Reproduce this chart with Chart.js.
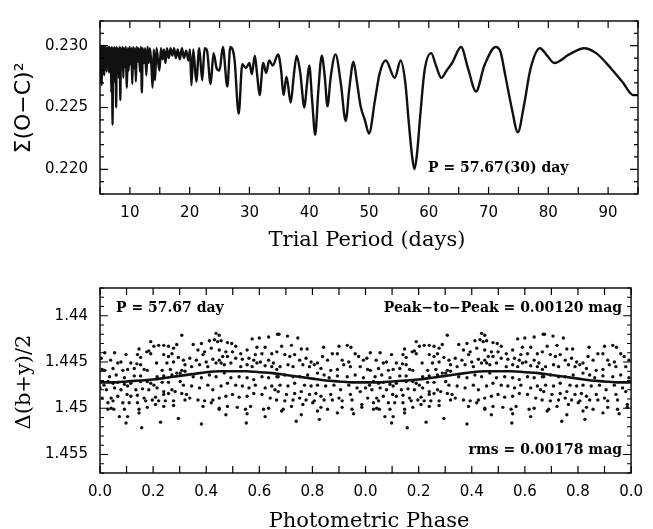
<!DOCTYPE html>
<html lang="en">
<head>
  <meta charset="UTF-8" />
  <title>Period search and phased light curve</title>
  <script src="https://cdn.jsdelivr.net/npm/chart.js"></script>
  <style>
    body {
      margin: 0;
      padding: 0;
      background: #fff;
      width: 653px;
      height: 529px;
      overflow: hidden;
    }
    canvas {
      position: absolute;
      left: 0;
    }
    #periodChart { top: 0; }
    #phaseChart { top: 262px; }
  </style>
</head>
<body>

<canvas id="periodChart" width="653" height="262"></canvas>
<canvas id="phaseChart" width="653" height="267"></canvas>

<script>
  // ---- top panel: sum of squared residuals vs trial period ----
  const trialPeriod = [
    5.0, 5.1, 5.2, 5.3, 5.4, 5.5, 5.6, 5.7, 5.8, 5.9,
    6.0, 6.1, 6.2, 6.3, 6.4, 6.5, 6.6, 6.7, 6.8, 6.9,
    7.0, 7.1, 7.2, 7.3, 7.4, 7.5, 7.6, 7.7, 7.8, 7.9,
    8.0, 8.15, 8.3, 8.4, 8.5, 8.65, 8.8, 8.9, 9.0, 9.15,
    9.3, 9.5, 9.65, 9.8, 9.95, 10.1, 10.25, 10.4, 10.55, 10.7,
    10.85, 11.0, 11.15, 11.3, 11.5, 11.7, 11.85, 12.0, 12.15, 12.35,
    12.55, 12.75, 12.95, 13.15, 13.35, 13.6, 13.8, 14.0, 14.2, 14.45,
    14.7, 14.95, 15.2, 15.45, 15.7, 15.95, 16.2, 16.5, 16.8, 17.1,
    17.4, 17.7, 18.0, 18.35, 18.7, 19.05, 19.4, 19.8, 20.05, 20.3,
    20.6, 21.1, 21.6, 22.1, 22.5, 22.9, 23.5, 24.0, 24.5, 25.0,
    25.55, 26.3, 26.8, 27.5, 28.2, 28.8, 29.4, 30.0, 30.4, 30.9,
    31.3, 31.7, 32.3, 32.8, 33.3, 33.9, 34.8, 35.3, 35.7, 36.2,
    36.9, 37.4, 37.9, 38.5, 39.2, 39.6, 40.0, 40.5, 41.0, 41.5,
    42.1, 42.6, 43.05, 43.6, 44.4, 45.3, 46.1, 46.7, 47.4, 48.0,
    48.6, 49.3, 50.0, 51.0, 51.8, 52.8, 54.3, 55.3, 56.1, 56.6,
    57.2, 57.6, 58.0, 58.6, 59.3, 60.4, 61.2, 62.1, 63.0, 63.9,
    65.4, 66.6, 67.9, 69.3, 71.2, 72.0, 72.8, 73.9, 74.9, 75.9,
    77.0, 78.6, 79.8, 81.0, 83.5, 86.0, 88.0, 90.6, 92.5, 94.2,
    95.0
  ];
  const sumOC = [
    0.2299, 0.2272, 0.2300, 0.2268, 0.2299, 0.2285, 0.2300, 0.2276, 0.2299, 0.2282,
    0.2299, 0.2279, 0.2298, 0.2288, 0.2299, 0.2278, 0.2299, 0.2284, 0.2298, 0.2262,
    0.2299, 0.2236, 0.2298, 0.2277, 0.2299, 0.2270, 0.2298, 0.2250, 0.2299, 0.2281,
    0.2298, 0.2274, 0.2299, 0.2256, 0.2298, 0.2284, 0.2299, 0.2274, 0.2298, 0.2283,
    0.2299, 0.2266, 0.2298, 0.2280, 0.2299, 0.2285, 0.2298, 0.2269, 0.2299, 0.2282,
    0.2298, 0.2271, 0.2299, 0.2287, 0.2298, 0.2279, 0.2299, 0.2262, 0.2298, 0.2286,
    0.2298, 0.2276, 0.2299, 0.2286, 0.2298, 0.2284, 0.2266, 0.2297, 0.2272, 0.2298,
    0.2288, 0.2280, 0.2298, 0.2289, 0.2297, 0.2286, 0.2298, 0.2290, 0.2298, 0.2292,
    0.2298, 0.2290, 0.2297, 0.2289, 0.2298, 0.2290, 0.2296, 0.2288, 0.2297, 0.2268,
    0.2297, 0.2271, 0.2298, 0.2272, 0.2298, 0.2296, 0.2269, 0.2294, 0.2282, 0.2280,
    0.2299, 0.2267, 0.2299, 0.2289, 0.2245, 0.2285, 0.2282, 0.2286, 0.2277, 0.2292,
    0.2276, 0.2260, 0.2286, 0.2278, 0.2288, 0.2284, 0.2293, 0.2280, 0.2260, 0.2275,
    0.2254, 0.2275, 0.2292, 0.2278, 0.2250, 0.2268, 0.2284, 0.2255, 0.2228, 0.2262,
    0.2292, 0.2275, 0.2251, 0.2275, 0.2293, 0.2269, 0.2239, 0.2265, 0.2287, 0.2270,
    0.2251, 0.2240, 0.2229, 0.2256, 0.2278, 0.2288, 0.2274, 0.2288, 0.2269, 0.2241,
    0.2211, 0.2200, 0.2211, 0.2245, 0.2280, 0.2294, 0.2284, 0.2274, 0.2280, 0.2286,
    0.2299, 0.2281, 0.2263, 0.2284, 0.2299, 0.2295, 0.2276, 0.2249, 0.2230, 0.2251,
    0.2281, 0.2298, 0.2292, 0.2286, 0.2293, 0.2298, 0.2294, 0.2281, 0.2270, 0.2260,
    0.2260
  ];
  const periodTicks = [10, 20, 30, 40, 50, 60, 70, 80, 90];
  const ocTicks = [0.220, 0.225, 0.230];
  const ocTickLabels = ['0.220', '0.225', '0.230'];

  // ---- bottom panel: phased photometry, one cycle (plotted twice) ----
  const phase = [
    0.308, 0.191, 0.203, 0.221, 0.240, 0.258, 0.289, 0.277, 0.147, 0.176,
    0.184, 0.191, 0.018, 0.055, 0.098, 0.141, 0.153, 0.240, 0.258, 0.271,
    0.295, 0.040, 0.005, 0.067, 0.079, 0.116, 0.139, 0.153, 0.213, 0.252,
    0.277, 0.314, 0.320, 0.018, 0.008, 0.049, 0.086, 0.104, 0.129, 0.166,
    0.178, 0.234, 0.265, 0.289, 0.308, 0.320, 0.036, 0.061, 0.092, 0.129,
    0.153, 0.215, 0.240, 0.271, 0.302, 0.015, 0.030, 0.049, 0.067, 0.092,
    0.116, 0.153, 0.178, 0.191, 0.203, 0.234, 0.258, 0.302, 0.314, 0.000,
    0.024, 0.055, 0.079, 0.104, 0.135, 0.160, 0.184, 0.215, 0.240, 0.271,
    0.283, 0.308, 0.326, 0.008, 0.042, 0.067, 0.102, 0.116, 0.141, 0.166,
    0.209, 0.240, 0.258, 0.030, 0.049, 0.086, 0.110, 0.141, 0.172, 0.197,
    0.221, 0.246, 0.277, 0.320, 0.030, 0.052, 0.092, 0.147, 0.178, 0.209,
    0.240, 0.277, 0.042, 0.073, 0.104, 0.147, 0.295, 0.098, 0.228, 0.157,
    0.437, 0.449, 0.351, 0.382, 0.412, 0.431, 0.443, 0.456, 0.480, 0.496,
    0.511, 0.573, 0.600, 0.635, 0.669, 0.591, 0.622, 0.369, 0.394, 0.419,
    0.449, 0.474, 0.499, 0.530, 0.554, 0.585, 0.610, 0.647, 0.666, 0.338,
    0.363, 0.388, 0.400, 0.425, 0.449, 0.462, 0.480, 0.511, 0.536, 0.561,
    0.579, 0.604, 0.635, 0.653, 0.345, 0.375, 0.406, 0.437, 0.456, 0.468,
    0.493, 0.530, 0.554, 0.573, 0.591, 0.622, 0.647, 0.666, 0.351, 0.382,
    0.412, 0.437, 0.468, 0.493, 0.524, 0.554, 0.579, 0.610, 0.635, 0.666,
    0.345, 0.375, 0.406, 0.425, 0.456, 0.480, 0.511, 0.536, 0.561, 0.585,
    0.622, 0.647, 0.659, 0.338, 0.369, 0.394, 0.425, 0.449, 0.474, 0.499,
    0.524, 0.554, 0.579, 0.610, 0.641, 0.388, 0.419, 0.449, 0.480, 0.517,
    0.548, 0.567, 0.616, 0.635, 0.474, 0.554, 0.622, 0.382, 0.551, 0.449,
    0.674, 0.706, 0.745, 0.684, 0.721, 0.758, 0.780, 0.842, 0.900, 0.931,
    0.945, 0.961, 0.875, 0.894, 0.696, 0.715, 0.733, 0.752, 0.776, 0.795,
    0.819, 0.838, 0.857, 0.912, 0.937, 0.974, 0.992, 0.678, 0.708, 0.727,
    0.764, 0.789, 0.807, 0.832, 0.869, 0.894, 0.918, 0.943, 0.980, 0.671,
    0.696, 0.727, 0.752, 0.782, 0.819, 0.844, 0.863, 0.894, 0.931, 0.961,
    0.992, 0.678, 0.708, 0.733, 0.770, 0.795, 0.819, 0.850, 0.881, 0.906,
    0.937, 0.968, 0.671, 0.702, 0.733, 0.758, 0.789, 0.813, 0.832, 0.869,
    0.900, 0.943, 0.980, 0.665, 0.696, 0.727, 0.752, 0.776, 0.807, 0.844,
    0.875, 0.912, 0.949, 0.986, 0.690, 0.721, 0.764, 0.801, 0.832, 0.857,
    0.912, 0.949, 0.986, 0.684, 0.758, 0.819, 0.894, 0.955, 0.739, 0.826
  ];
  const deltaBY = [
    1.4421, 1.4428, 1.4433, 1.4432, 1.4432, 1.4433, 1.4431, 1.4435, 1.4436, 1.4439,
    1.4438, 1.4441, 1.4440, 1.4440, 1.4442, 1.4442, 1.4445, 1.4442, 1.4444, 1.4441,
    1.4445, 1.4448, 1.4446, 1.4451, 1.4450, 1.4451, 1.4452, 1.4453, 1.4451, 1.4451,
    1.4450, 1.4448, 1.4453, 1.4459, 1.4458, 1.4457, 1.4459, 1.4458, 1.4457, 1.4458,
    1.4459, 1.4459, 1.4458, 1.4462, 1.4459, 1.4460, 1.4466, 1.4464, 1.4467, 1.4465,
    1.4465, 1.4466, 1.4465, 1.4464, 1.4462, 1.4475, 1.4471, 1.4473, 1.4472, 1.4474,
    1.4473, 1.4471, 1.4471, 1.4473, 1.4475, 1.4472, 1.4472, 1.4471, 1.4475, 1.4478,
    1.4480, 1.4478, 1.4480, 1.4476, 1.4480, 1.4479, 1.4480, 1.4478, 1.4482, 1.4480,
    1.4482, 1.4484, 1.4485, 1.4489, 1.4489, 1.4487, 1.4485, 1.4487, 1.4486, 1.4489,
    1.4488, 1.4485, 1.4484, 1.4494, 1.4492, 1.4494, 1.4494, 1.4494, 1.4492, 1.4491,
    1.4492, 1.4492, 1.4492, 1.4491, 1.4501, 1.4501, 1.4501, 1.4501, 1.4499, 1.4496,
    1.4498, 1.4497, 1.4500, 1.4509, 1.4509, 1.4505, 1.4511, 1.4516, 1.4515, 1.4521,
    1.4419, 1.4421, 1.4431, 1.4430, 1.4427, 1.4426, 1.4428, 1.4427, 1.4429, 1.4430,
    1.4433, 1.4425, 1.4424, 1.4423, 1.4420, 1.4434, 1.4434, 1.4437, 1.4439, 1.4435,
    1.4437, 1.4439, 1.4439, 1.4441, 1.4437, 1.4442, 1.4441, 1.4441, 1.4439, 1.4446,
    1.4448, 1.4442, 1.4450, 1.4447, 1.4448, 1.4444, 1.4444, 1.4446, 1.4447, 1.4446,
    1.4448, 1.4450, 1.4448, 1.4451, 1.4455, 1.4453, 1.4455, 1.4451, 1.4451, 1.4453,
    1.4451, 1.4455, 1.4453, 1.4455, 1.4451, 1.4454, 1.4455, 1.4458, 1.4466, 1.4467,
    1.4464, 1.4466, 1.4462, 1.4467, 1.4466, 1.4467, 1.4469, 1.4466, 1.4467, 1.4466,
    1.4476, 1.4478, 1.4475, 1.4480, 1.4476, 1.4473, 1.4475, 1.4476, 1.4478, 1.4475,
    1.4478, 1.4476, 1.4480, 1.4489, 1.4491, 1.4492, 1.4491, 1.4489, 1.4487, 1.4485,
    1.4488, 1.4487, 1.4484, 1.4485, 1.4489, 1.4498, 1.4494, 1.4501, 1.4498, 1.4499,
    1.4501, 1.4498, 1.4501, 1.4500, 1.4507, 1.4506, 1.4509, 1.4517, 1.4516, 1.4500,
    1.4420, 1.4422, 1.4424, 1.4433, 1.4432, 1.4436, 1.4436, 1.4434, 1.4433, 1.4432,
    1.4434, 1.4441, 1.4441, 1.4441, 1.4442, 1.4444, 1.4442, 1.4448, 1.4446, 1.4450,
    1.4451, 1.4444, 1.4448, 1.4448, 1.4450, 1.4444, 1.4448, 1.4455, 1.4453, 1.4455,
    1.4453, 1.4455, 1.4453, 1.4457, 1.4459, 1.4458, 1.4453, 1.4455, 1.4455, 1.4466,
    1.4464, 1.4466, 1.4466, 1.4464, 1.4462, 1.4464, 1.4467, 1.4465, 1.4466, 1.4464,
    1.4467, 1.4475, 1.4476, 1.4473, 1.4475, 1.4476, 1.4475, 1.4476, 1.4475, 1.4480,
    1.4475, 1.4478, 1.4482, 1.4485, 1.4484, 1.4482, 1.4485, 1.4484, 1.4487, 1.4485,
    1.4489, 1.4485, 1.4482, 1.4491, 1.4492, 1.4491, 1.4489, 1.4491, 1.4492, 1.4491,
    1.4491, 1.4492, 1.4491, 1.4496, 1.4501, 1.4498, 1.4496, 1.4494, 1.4499, 1.4501,
    1.4499, 1.4501, 1.4499, 1.4503, 1.4507, 1.4503, 1.4505, 1.4506, 1.4514, 1.4512
  ];
  const fitPhase = [
    0.00, 0.05, 0.10, 0.15, 0.20, 0.25, 0.30, 0.35, 0.40, 0.45, 0.50,
    0.55, 0.60, 0.65, 0.70, 0.75, 0.80, 0.85, 0.90, 0.95, 1.00
  ];
  const fitValue = [
    1.4472, 1.4472, 1.4471, 1.4470, 1.4469, 1.4467, 1.4465, 1.4463, 1.4461, 1.4460, 1.4460,
    1.4460, 1.4461, 1.4462, 1.4464, 1.4466, 1.4468, 1.4470, 1.4471, 1.4472, 1.4472
  ];
  const phaseTicks = [0, 0.2, 0.4, 0.6, 0.8, 1.0, 1.2, 1.4, 1.6, 1.8, 2.0];
  const phaseTickLabels = ['0.0', '0.2', '0.4', '0.6', '0.8', '0.0', '0.2', '0.4', '0.6', '0.8', '0.0'];
  const magTicks = [1.44, 1.445, 1.45, 1.455];
  const magTickLabels = ['1.44', '1.445', '1.45', '1.455'];

  const tickFont = { family: 'DejaVu Sans', size: 15 };
  const noteFont = 'bold 14px "DejaVu Serif"';

  // frame, inward ticks on all four sides, and text
  function framePlugin(cfg) {
    return {
      id: 'frame' + cfg.name,
      afterDraw(chart) {
        const { ctx, chartArea: a } = chart;
        const xs = chart.scales.x, ys = chart.scales.y;
        ctx.save();
        ctx.strokeStyle = '#000';
        ctx.lineWidth = 1.4;
        ctx.strokeRect(a.left, a.top, a.right - a.left, a.bottom - a.top);
        ctx.lineWidth = 1.2;
        ctx.beginPath();
        for (let i = 0; i <= cfg.xCount; i++) {
          const px = xs.getPixelForValue(cfg.xFrom + i * cfg.xStep);
          ctx.moveTo(px, a.bottom); ctx.lineTo(px, a.bottom - 7);
          ctx.moveTo(px, a.top); ctx.lineTo(px, a.top + 7);
        }
        for (let i = 0; i <= cfg.yCount; i++) {
          const py = ys.getPixelForValue(cfg.yFrom + i * cfg.yStep);
          const len = (i % cfg.yMajorEvery === cfg.yMajorOffset) ? 8 : 4;
          ctx.moveTo(a.left, py); ctx.lineTo(a.left + len, py);
          ctx.moveTo(a.right, py); ctx.lineTo(a.right - len, py);
        }
        ctx.stroke();

        ctx.fillStyle = '#000';
        cfg.texts.forEach(t => {
          ctx.save();
          ctx.font = t.font;
          ctx.textAlign = t.align || 'left';
          ctx.textBaseline = 'alphabetic';
          ctx.translate(t.x, t.y);
          if (t.rotate) ctx.rotate(-Math.PI / 2);
          ctx.fillText(t.text, 0, 0);
          ctx.restore();
        });
        ctx.restore();
      }
    };
  }

  // ---- top chart ----
  new Chart(document.getElementById('periodChart'), {
    type: 'scatter',
    data: {
      datasets: [{
        data: trialPeriod.map((p, i) => ({ x: p, y: sumOC[i] })),
        showLine: true,
        borderColor: '#111',
        borderWidth: 2.4,
        pointRadius: 0,
        cubicInterpolationMode: 'monotone'
      }]
    },
    options: {
      responsive: false,
      devicePixelRatio: 1,
      animation: false,
      events: [],
      layout: { padding: { top: 8, right: 15, left: 0, bottom: 0 } },
      plugins: { legend: { display: false }, tooltip: { enabled: false } },
      scales: {
        x: {
          type: 'linear', min: 5, max: 95,
          afterFit: s => { s.height = 68; },
          afterBuildTicks: s => { s.ticks = periodTicks.map(v => ({ value: v })); },
          grid: { display: false, drawTicks: false },
          border: { display: false },
          ticks: { color: '#000', font: tickFont, padding: 10, maxRotation: 0 }
        },
        y: {
          type: 'linear', min: 0.218, max: 0.232,
          afterFit: s => { s.width = 100; },
          afterBuildTicks: s => { s.ticks = ocTicks.map(v => ({ value: v })); },
          grid: { display: false, drawTicks: false },
          border: { display: false },
          ticks: {
            color: '#000', font: tickFont, padding: 12,
            callback: (v, i) => ocTickLabels[i]
          }
        }
      }
    },
    plugins: [framePlugin({
      name: 'top',
      xFrom: 5, xStep: 5, xCount: 18,
      yFrom: 0.218, yStep: 0.001, yCount: 14, yMajorEvery: 5, yMajorOffset: 2,
      texts: [
        { text: 'Trial Period (days)', x: 367, y: 246, align: 'center', font: '21px "DejaVu Serif"' },
        { text: 'Σ(O−C)²', x: 30, y: 108, align: 'center', rotate: true, font: '22px "DejaVu Sans"' },
        { text: 'P = 57.67(30) day', x: 428, y: 172, font: noteFont }
      ]
    })]
  });

  // ---- bottom chart ----
  const pointsTwoCycles = phase.map((p, i) => ({ x: p, y: deltaBY[i] }))
    .concat(phase.map((p, i) => ({ x: p + 1, y: deltaBY[i] })));
  const fitTwoCycles = fitPhase.map((p, i) => ({ x: p, y: fitValue[i] }))
    .concat(fitPhase.slice(1).map((p, i) => ({ x: p + 1, y: fitValue[i + 1] })));

  new Chart(document.getElementById('phaseChart'), {
    type: 'scatter',
    data: {
      datasets: [{
        data: fitTwoCycles,
        showLine: true,
        borderColor: '#111',
        borderWidth: 2.6,
        pointRadius: 0,
        cubicInterpolationMode: 'monotone'
      }, {
        data: pointsTwoCycles,
        pointRadius: 1.7,
        pointBackgroundColor: '#111',
        pointBorderWidth: 0
      }]
    },
    options: {
      responsive: false,
      devicePixelRatio: 1,
      animation: false,
      events: [],
      layout: { padding: { top: 26, right: 15, left: 0, bottom: 0 } },
      plugins: { legend: { display: false }, tooltip: { enabled: false } },
      scales: {
        x: {
          type: 'linear', min: 0, max: 2,
          afterFit: s => { s.height = 56; },
          afterBuildTicks: s => { s.ticks = phaseTicks.map(v => ({ value: v })); },
          grid: { display: false, drawTicks: false },
          border: { display: false },
          ticks: {
            color: '#000', font: tickFont, padding: 10, maxRotation: 0,
            callback: (v, i) => phaseTickLabels[i]
          }
        },
        y: {
          type: 'linear', min: 1.437, max: 1.457, reverse: true,
          afterFit: s => { s.width = 100; },
          afterBuildTicks: s => { s.ticks = magTicks.map(v => ({ value: v })); },
          grid: { display: false, drawTicks: false },
          border: { display: false },
          ticks: {
            color: '#000', font: tickFont, padding: 12,
            callback: (v, i) => magTickLabels[i]
          }
        }
      }
    },
    plugins: [framePlugin({
      name: 'bottom',
      xFrom: 0, xStep: 0.1, xCount: 20,
      yFrom: 1.437, yStep: 0.001, yCount: 20, yMajorEvery: 5, yMajorOffset: 3,
      texts: [
        { text: 'Photometric Phase', x: 369, y: 265, align: 'center', font: '21px "DejaVu Serif"' },
        { text: 'Δ(b+y)/2', x: 30, y: 120, align: 'center', rotate: true, font: '21px "DejaVu Serif"' },
        { text: 'P = 57.67 day', x: 116, y: 50, font: noteFont },
        { text: 'Peak−to−Peak = 0.00120 mag', x: 622, y: 50, align: 'right', font: noteFont },
        { text: 'rms = 0.00178 mag', x: 622, y: 192, align: 'right', font: noteFont }
      ]
    })]
  });
</script>

</body>
</html>
